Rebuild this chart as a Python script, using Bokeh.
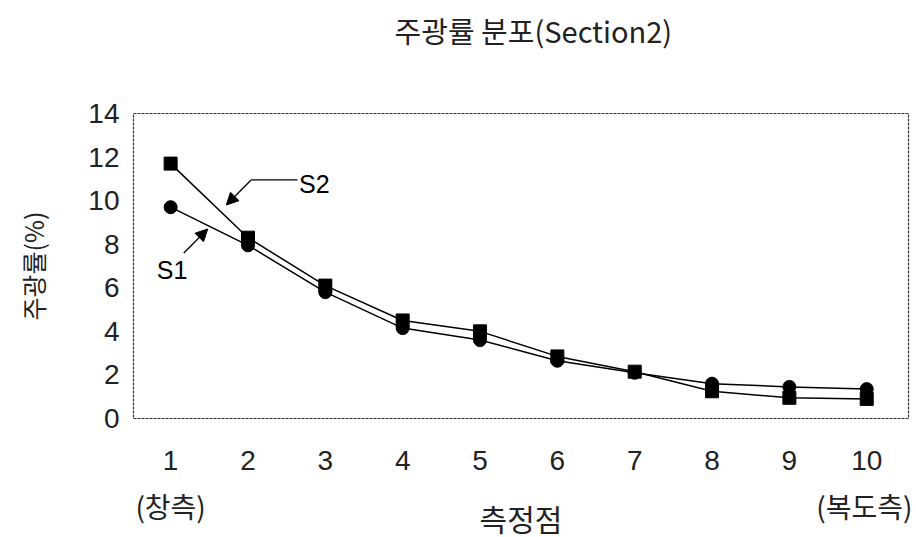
from bokeh.plotting import figure
from bokeh.models import Label, Range1d, FixedTicker, Arrow, NormalHead, LinearAxis
from bokeh.embed import file_html
from bokeh.resources import INLINE

# ---- data ----
points = [1, 2, 3, 4, 5, 6, 7, 8, 9, 10]
s1_values = [9.7, 7.95, 5.8, 4.15, 3.6, 2.65, 2.1, 1.6, 1.45, 1.35]
s2_values = [11.7, 8.3, 6.1, 4.5, 4.0, 2.85, 2.15, 1.25, 0.95, 0.9]
y_ticks = [0, 2, 4, 6, 8, 10, 12, 14]
title_text = "주광률 분포(Section2)"
title_center_x = 5.69
x_title = "측정점"
y_title = "주광률(%)"
end_ticks = [1, 10]
end_labels = ["(창측)", "(복도측)"]

KR = "Noto Sans CJK KR"
LAT = "Liberation Sans"
INK = "#222222"

p = figure(width=912, height=537, output_backend="svg", toolbar_location=None,
           x_range=Range1d(0.52, 10.54), y_range=Range1d(0, 14),
           min_border_left=133, min_border_right=4, min_border_top=113, min_border_bottom=119)
p.frame_width = 775
p.frame_height = 305

p.grid.visible = False
p.outline_line_color = "#333333"
p.outline_line_width = 1.2
p.outline_line_dash = "3 1"
p.background_fill_color = "white"
p.border_fill_color = "white"

# axes
main_x = p.below[0]
main_y = p.left[0]
main_x.ticker = FixedTicker(ticks=points)
main_y.ticker = FixedTicker(ticks=y_ticks)
end_axis = LinearAxis(ticker=FixedTicker(ticks=end_ticks),
                      major_label_overrides={t: s for t, s in zip(end_ticks, end_labels)})
p.add_layout(end_axis, "below")
# chart title, set above the frame
title_axis = LinearAxis(ticker=FixedTicker(ticks=[title_center_x]),
                        major_label_overrides={title_center_x: title_text})
p.add_layout(title_axis, "above")

for ax in (main_x, main_y, end_axis, title_axis):
    ax.axis_line_color = None
    ax.major_tick_line_color = None
    ax.minor_tick_line_color = None
    ax.major_label_text_font = LAT
    ax.major_label_text_font_size = "28px"
    ax.major_label_text_color = INK
    ax.axis_label_text_font = KR
    ax.axis_label_text_font_size = "25px"
    ax.axis_label_text_font_style = "normal"
    ax.axis_label_text_color = INK

title_axis.major_label_text_font = KR
title_axis.major_label_text_font_size = "29px"
title_axis.major_label_standoff = 57

main_x.major_label_standoff = 26
end_axis.major_label_text_font = KR
end_axis.major_label_text_font_size = "28px"
end_axis.major_label_standoff = 7
end_axis.axis_label = x_title
end_axis.axis_label_text_font_size = "30px"
end_axis.axis_label_standoff = -33

main_y.major_label_standoff = 8
main_y.axis_label = y_title
main_y.axis_label_standoff = 34

# series
p.line(points, s1_values, line_color="black", line_width=1.5)
p.line(points, s2_values, line_color="black", line_width=1.5)
p.scatter(points, s1_values, marker="circle", size=13, fill_color="black", line_color="black")
p.scatter(points, s2_values, marker="square", size=13, fill_color="black", line_color="black")

# series annotations
p.add_layout(Label(x=2.66, y=10.75, text="S2", text_font=LAT, text_font_size="25px",
                   text_color="black", text_baseline="middle"))
p.line([2.64, 2.04], [10.95, 10.95], line_color="black", line_width=1.3)
p.add_layout(Arrow(x_start=2.04, y_start=10.95, x_end=1.72, y_end=9.8, line_color="black",
                   line_width=1.3, end=NormalHead(size=12, fill_color="black", line_color="black")))
p.add_layout(Label(x=0.82, y=6.8, text="S1", text_font=LAT, text_font_size="25px",
                   text_color="black", text_baseline="middle"))
p.add_layout(Arrow(x_start=1.17, y_start=7.6, x_end=1.48, y_end=8.7, line_color="black",
                   line_width=1.3, end=NormalHead(size=12, fill_color="black", line_color="black")))

open("out.html", "w").write(file_html(p, INLINE))
